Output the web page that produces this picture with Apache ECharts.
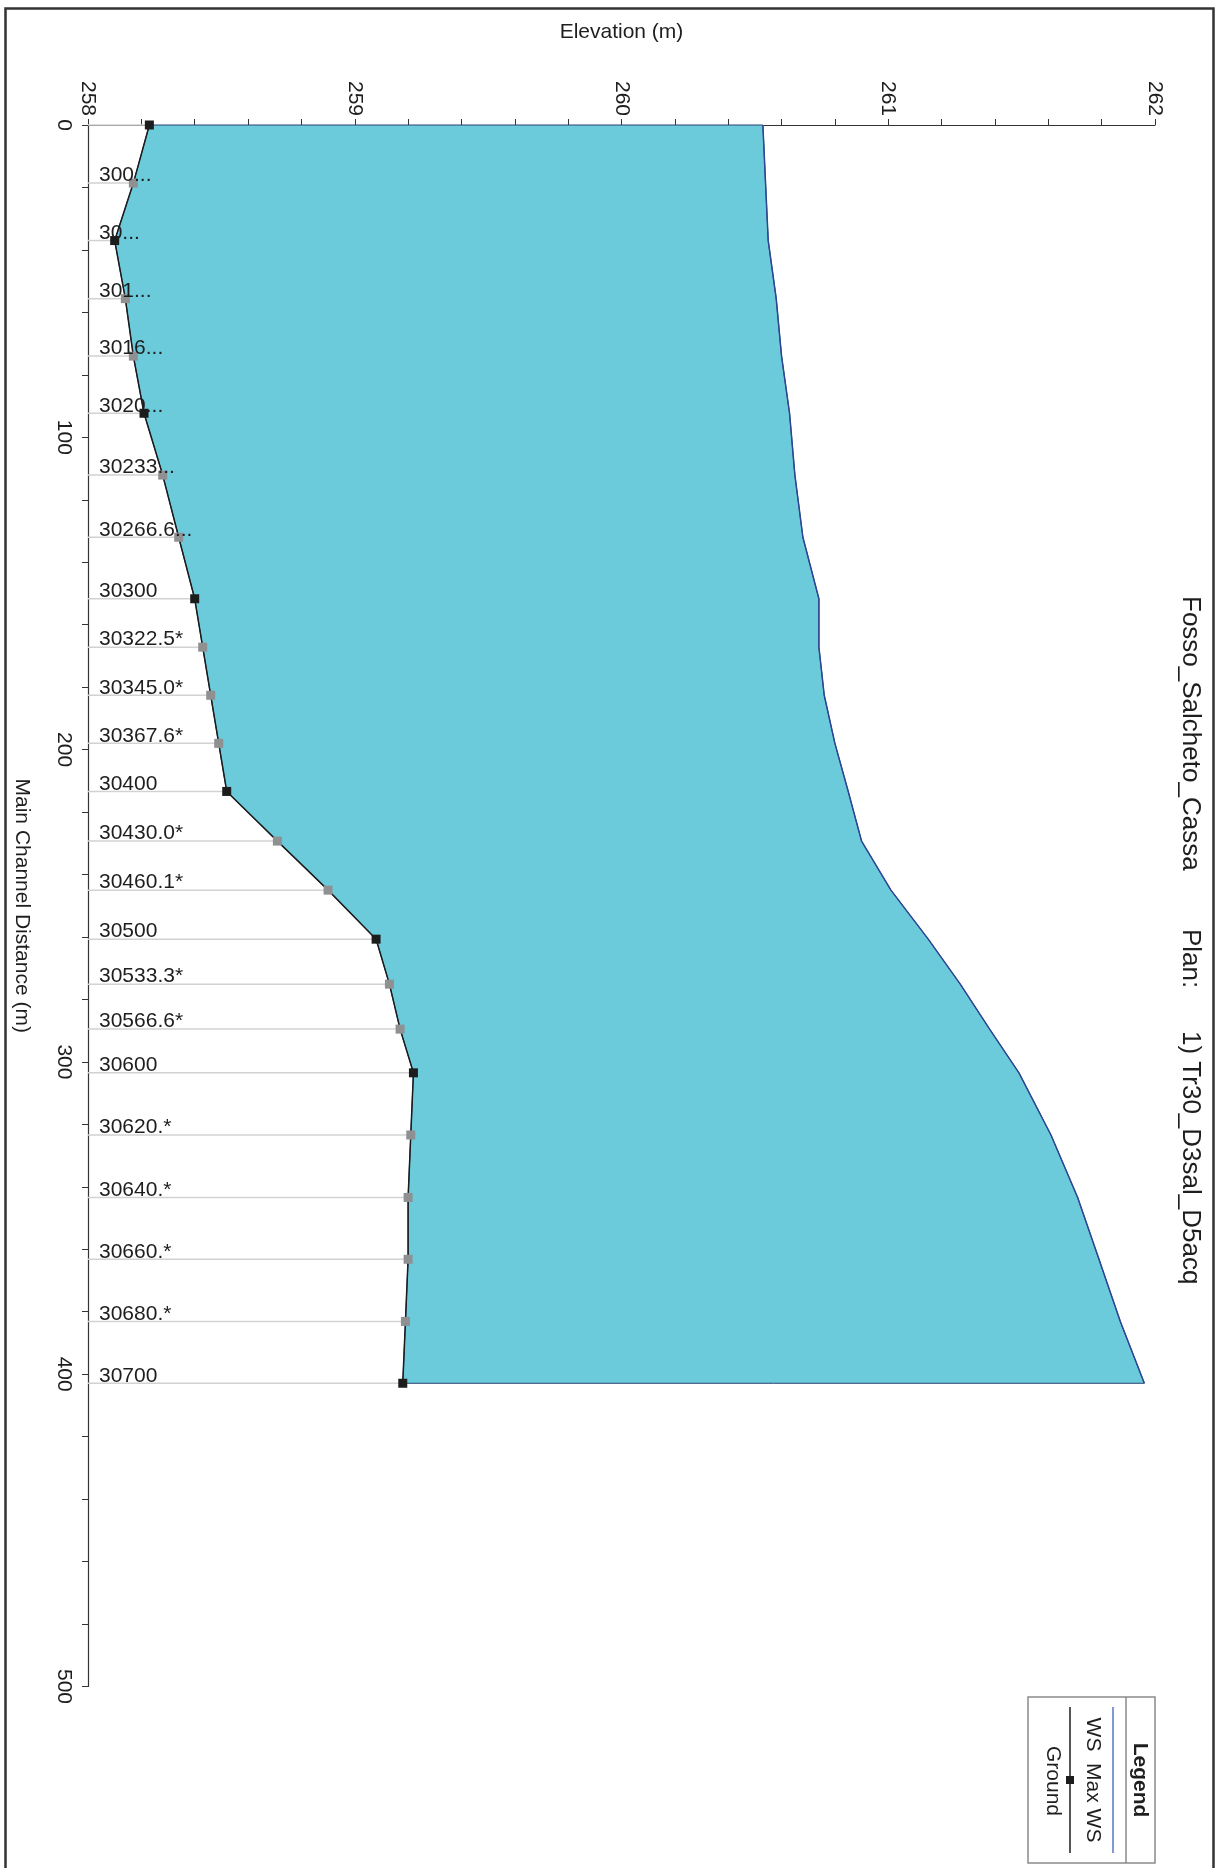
<!DOCTYPE html>
<html>
<head>
<meta charset="utf-8">
<title>Fosso_Salcheto_Cassa profile</title>
<script src="https://cdn.jsdelivr.net/npm/echarts@6/dist/echarts.min.js"></script>
<style>
  html, body { margin: 0; padding: 0; background: #fff; }
  #main { width: 1219px; height: 1868px; }
</style>
</head>
<body>
<div id="main"></div>
<script>
// main channel distance of each cross section (m)
var distance = [0, 18.6, 37.0, 55.6, 74.0, 92.3, 112.1, 132.0, 151.7, 167.2, 182.6, 198.0,
  213.4, 229.3, 245.0, 260.7, 275.1, 289.5, 303.5, 323.4, 343.4, 363.2, 383.1, 402.9];
// max water surface elevation (m)
var wsMax = [260.53, 260.54, 260.55, 260.58, 260.60, 260.63, 260.65, 260.68, 260.74, 260.74, 260.76, 260.80,
  260.85, 260.90, 261.01, 261.15, 261.27, 261.38, 261.49, 261.61, 261.71, 261.79, 261.87, 261.96];
// ground (channel bottom) elevation (m)
var ground = [258.23, 258.17, 258.10, 258.14, 258.17, 258.21, 258.28, 258.34, 258.40, 258.43, 258.46, 258.49,
  258.52, 258.71, 258.90, 259.08, 259.13, 259.17, 259.22, 259.21, 259.20, 259.20, 259.19, 259.18];
// 1 = surveyed section (black marker), 0 = interpolated (grey marker)
var surveyed = [1, 0, 1, 0, 0, 1, 0, 0, 1, 0, 0, 0, 1, 0, 0, 1, 0, 0, 1, 0, 0, 0, 0, 1];
var stationLabels = ['', '300...', '30...', '301...', '3016...', '3020...', '30233...', '30266.6...',
  '30300', '30322.5*', '30345.0*', '30367.6*', '30400', '30430.0*', '30460.1*', '30500',
  '30533.3*', '30566.6*', '30600', '30620.*', '30640.*', '30660.*', '30680.*', '30700'];

var elevMin = 258, elevMax = 262;
var FONT = '"Liberation Sans", Arial, Helvetica, sans-serif';
var TXT = '#1e1e1e';

var myChart = echarts.init(document.getElementById('main'));

var points = distance.map(function (d, i) { return [ground[i], d]; });

var option = {
  backgroundColor: '#fff',
  animation: false,
  textStyle: { fontFamily: FONT },
  grid: { left: 88, right: 64, top: 125, bottom: 181.5, containLabel: false, outerBoundsMode: 'none' },
  xAxis: {
    type: 'value',
    position: 'top',
    min: elevMin,
    max: elevMax,
    interval: 1,
    name: 'Elevation (m)',
    nameLocation: 'middle',
    nameGap: 82,
    nameTextStyle: { fontSize: 21, color: TXT, fontFamily: FONT },
    axisLine: { show: true, lineStyle: { color: '#333', width: 1.2 } },
    axisTick: { show: true, length: 6, lineStyle: { color: '#333' } },
    minorTick: { show: true, splitNumber: 5, length: 6, lineStyle: { color: '#333' } },
    axisLabel: { rotate: -90, margin: 9, fontSize: 21, color: TXT, fontFamily: FONT },
    splitLine: { show: false },
    minorSplitLine: { show: false }
  },
  yAxis: {
    type: 'value',
    inverse: true,
    min: 0,
    max: 500,
    interval: 100,
    name: 'Main Channel Distance (m)',
    nameLocation: 'middle',
    nameRotate: -90,
    nameGap: 56,
    nameTextStyle: { fontSize: 21, color: TXT, fontFamily: FONT },
    axisLine: { show: true, lineStyle: { color: '#333', width: 1.2 } },
    axisTick: { show: true, length: 6, lineStyle: { color: '#333' } },
    minorTick: { show: true, splitNumber: 5, length: 6, lineStyle: { color: '#333' } },
    axisLabel: { rotate: -90, margin: 14, fontSize: 21, color: TXT, fontFamily: FONT },
    splitLine: { show: false },
    minorSplitLine: { show: false }
  },
  series: [
    {
      // water body between ground and max WS
      type: 'custom',
      name: 'fill',
      z: 1,
      data: [[wsMax[0], distance[0]]],
      encode: { x: 0, y: 1 },
      renderItem: function (params, api) {
        var pts = [];
        for (var i = 0; i < distance.length; i++) pts.push(api.coord([wsMax[i], distance[i]]));
        for (var j = distance.length - 1; j >= 0; j--) pts.push(api.coord([ground[j], distance[j]]));
        return {
          type: 'polygon',
          shape: { points: pts },
          style: { fill: '#6ccbdb', stroke: '#26406e', lineWidth: 1 }
        };
      }
    },
    {
      // cross section location lines
      type: 'custom',
      name: 'sections',
      z: 2,
      data: points,
      encode: { x: 0, y: 1 },
      renderItem: function (params, api) {
        var d = api.value(1);
        var p0 = api.coord([elevMin, d]);
        var p1 = api.coord([api.value(0), d]);
        return {
          type: 'line',
          shape: { x1: p0[0], y1: p0[1], x2: p1[0], y2: p1[1] },
          style: { stroke: '#d2d2d2', lineWidth: 1.5 }
        };
      }
    },
    {
      type: 'line',
      name: 'WS Max WS',
      z: 3,
      data: distance.map(function (d, i) { return [wsMax[i], d]; }),
      showSymbol: false,
      symbol: 'none',
      lineStyle: { color: '#2d4795', width: 1.5 },
      itemStyle: { color: '#2d4795' }
    },
    {
      type: 'line',
      name: 'Ground',
      z: 4,
      data: points.map(function (p, i) {
        return { value: p, itemStyle: { color: surveyed[i] ? '#1c1c1c' : '#8f9092' } };
      }),
      symbol: 'rect',
      symbolSize: 9,
      showSymbol: true,
      showAllSymbol: true,
      lineStyle: { color: '#1c1c1c', width: 1.5 }
    },
    {
      // river station labels
      type: 'custom',
      name: 'labels',
      z: 5,
      data: points,
      encode: { x: 0, y: 1 },
      renderItem: function (params, api) {
        var p0 = api.coord([elevMin, api.value(1)]);
        return {
          type: 'text',
          x: p0[0] + 11,
          y: p0[1] + 3,
          style: {
            text: stationLabels[params.dataIndex],
            font: '21px ' + FONT,
            fill: TXT,
            align: 'left',
            verticalAlign: 'bottom'
          }
        };
      }
    }
  ],
  graphic: [
    // outer frame
    { type: 'rect', left: 3, top: 6, shape: { x: 0, y: 0, width: 1208, height: 1900 },
      style: { fill: 'none', stroke: '#333', lineWidth: 2.5 }, silent: true },
    // plot title, rotated
    { type: 'text', x: 1190, y: 596, rotation: -Math.PI / 2,
      style: { text: 'Fosso_Salcheto_Cassa', font: '26px ' + FONT, fill: TXT, align: 'left', verticalAlign: 'middle' } },
    { type: 'text', x: 1190, y: 929, rotation: -Math.PI / 2,
      style: { text: 'Plan:', font: '26px ' + FONT, fill: TXT, align: 'left', verticalAlign: 'middle' } },
    { type: 'text', x: 1190, y: 1031, rotation: -Math.PI / 2,
      style: { text: '1) Tr30_D3sal_D5acq', font: '26px ' + FONT, fill: TXT, align: 'left', verticalAlign: 'middle' } },
    // legend box
    { type: 'rect', shape: { x: 1028, y: 1697, width: 127, height: 166 },
      style: { fill: '#fff', stroke: '#8a8a8a', lineWidth: 1.5 } },
    { type: 'line', shape: { x1: 1126, y1: 1697, x2: 1126, y2: 1863 },
      style: { stroke: '#8a8a8a', lineWidth: 1.5 } },
    { type: 'text', x: 1140, y: 1780, rotation: -Math.PI / 2,
      style: { text: 'Legend', font: 'bold 21px ' + FONT, fill: TXT, align: 'center', verticalAlign: 'middle' } },
    { type: 'line', shape: { x1: 1113, y1: 1707, x2: 1113, y2: 1853 },
      style: { stroke: '#5577c2', lineWidth: 1.5 } },
    { type: 'text', x: 1093, y: 1780, rotation: -Math.PI / 2,
      style: { text: 'WS  Max WS', font: '21px ' + FONT, fill: TXT, align: 'center', verticalAlign: 'middle' } },
    { type: 'line', shape: { x1: 1070, y1: 1707, x2: 1070, y2: 1853 },
      style: { stroke: '#1c1c1c', lineWidth: 1.5 } },
    { type: 'rect', shape: { x: 1066, y: 1776, width: 8, height: 8 },
      style: { fill: '#1c1c1c' } },
    { type: 'text', x: 1053, y: 1781, rotation: -Math.PI / 2,
      style: { text: 'Ground', font: '21px ' + FONT, fill: TXT, align: 'center', verticalAlign: 'middle' } }
  ]
};

myChart.setOption(option);
</script>
</body>
</html>
